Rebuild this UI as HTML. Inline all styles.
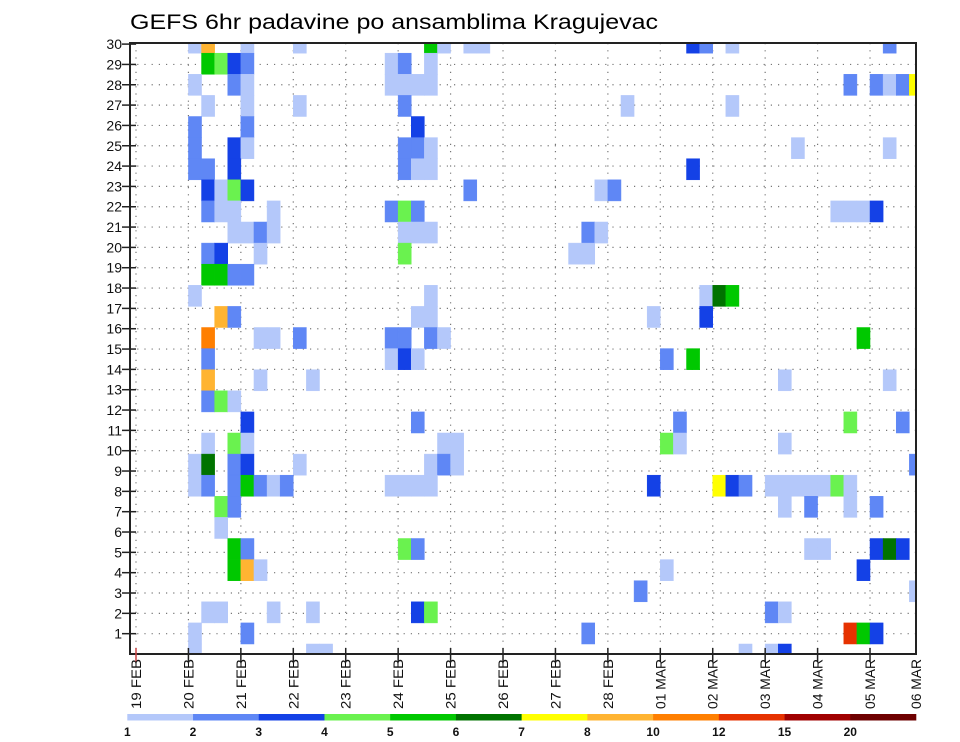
<!DOCTYPE html>
<html><head><meta charset="utf-8"><style>
html,body{margin:0;padding:0;background:#fff;}
svg{display:block;font-family:"Liberation Sans",sans-serif;}
</style></head><body>
<svg id="chart" width="960" height="742" viewBox="0 0 960 742">
<defs><clipPath id="plotclip"><rect x="130" y="43" width="786" height="611"/></clipPath></defs>
<text x="130" y="29" font-size="21" textLength="528" lengthAdjust="spacingAndGlyphs" fill="#000">GEFS 6hr padavine po ansamblima Kragujevac</text>
<g id="grid"></g>
<g id="cells" clip-path="url(#plotclip)"></g>
<rect x="130" y="43" width="786" height="611" fill="none" stroke="#222" stroke-width="2"/>
<g id="yaxis"></g>
<g id="xaxis"></g>
<g id="legend"></g>
</svg>
<script>
// ---- data ----
const dateLabels = ["19 FEB","20 FEB","21 FEB","22 FEB","23 FEB","24 FEB","25 FEB","26 FEB","27 FEB","28 FEB","01 MAR","02 MAR","03 MAR","04 MAR","05 MAR"];
const memberTicks = [1,2,3,4,5,6,7,8,9,10,11,12,13,14,15,16,17,18,19,20,21,22,23,24,25,26,27,28,29,30];
const levels = [1,2,3,4,5,6,7,8,10,12,15,20];
const levelColors = ["#b4c8fa","#5f87f5","#1441e6","#6af24f","#00c800","#007300","#ffff00","#ffb432","#ff7f00","#e63200","#a00000","#6e0000"];
// precipitation cells: [member row, 6-hour step from 19 FEB 00Z, precipitation mm]
const precipCells = [
[29,4,1.5],[29,5,9],[29,8,1.5],[29,12,1.5],[29,22,5.5],[29,23,1.5],[29,25,1.5],[29,26,1.5],[29,42,3.5],[29,43,2.5],[29,45,1.5],[29,57,2.5],
[28,5,5.5],[28,6,4.5],[28,7,3.5],[28,8,2.5],[28,19,1.5],[28,20,2.5],[28,22,1.5],
[27,4,1.5],[27,7,2.5],[27,8,1.5],[27,19,1.5],[27,20,1.5],[27,21,1.5],[27,22,1.5],[27,54,2.5],[27,56,2.5],[27,57,1.5],[27,58,2.5],[27,59,7.5],
[26,5,1.5],[26,8,1.5],[26,12,1.5],[26,20,2.5],[26,37,1.5],[26,45,1.5],
[25,4,2.5],[25,8,2.5],[25,21,3.5],
[24,4,2.5],[24,7,3.5],[24,8,1.5],[24,20,2.5],[24,21,2.5],[24,22,1.5],[24,50,1.5],[24,57,1.5],
[23,4,2.5],[23,5,2.5],[23,7,3.5],[23,20,2.5],[23,21,1.5],[23,22,1.5],[23,42,3.5],
[22,5,3.5],[22,6,1.5],[22,7,4.5],[22,8,3.5],[22,25,2.5],[22,35,1.5],[22,36,2.5],
[21,5,2.5],[21,6,1.5],[21,7,1.5],[21,10,1.5],[21,19,2.5],[21,20,4.5],[21,21,2.5],[21,53,1.5],[21,54,1.5],[21,55,1.5],[21,56,3.5],
[20,7,1.5],[20,8,1.5],[20,9,2.5],[20,10,1.5],[20,20,1.5],[20,21,1.5],[20,22,1.5],[20,34,2.5],[20,35,1.5],
[19,5,2.5],[19,6,3.5],[19,9,1.5],[19,20,4.5],[19,33,1.5],[19,34,1.5],
[18,5,5.5],[18,6,5.5],[18,7,2.5],[18,8,2.5],
[17,4,1.5],[17,22,1.5],[17,43,1.5],[17,44,6.5],[17,45,5.5],
[16,6,9],[16,7,2.5],[16,21,1.5],[16,22,1.5],[16,39,1.5],[16,43,3.5],
[15,5,11],[15,9,1.5],[15,10,1.5],[15,12,2.5],[15,19,2.5],[15,20,2.5],[15,22,2.5],[15,23,1.5],[15,55,5.5],
[14,5,2.5],[14,19,1.5],[14,20,3.5],[14,21,1.5],[14,40,2.5],[14,42,5.5],
[13,5,9],[13,9,1.5],[13,13,1.5],[13,49,1.5],[13,57,1.5],
[12,5,2.5],[12,6,4.5],[12,7,1.5],
[11,8,3.5],[11,21,2.5],[11,41,2.5],[11,54,4.5],[11,58,2.5],
[10,5,1.5],[10,7,4.5],[10,8,1.5],[10,23,1.5],[10,24,1.5],[10,40,4.5],[10,41,1.5],[10,49,1.5],
[9,4,1.5],[9,5,6.5],[9,7,2.5],[9,8,3.5],[9,12,1.5],[9,22,1.5],[9,23,2.5],[9,24,1.5],[9,59,2.5],
[8,4,1.5],[8,5,2.5],[8,7,2.5],[8,8,5.5],[8,9,2.5],[8,10,1.5],[8,11,2.5],[8,19,1.5],[8,20,1.5],[8,21,1.5],[8,22,1.5],[8,39,3.5],[8,44,7.5],[8,45,3.5],[8,46,2.5],[8,48,1.5],[8,49,1.5],[8,50,1.5],[8,51,1.5],[8,52,1.5],[8,53,4.5],[8,54,1.5],
[7,6,4.5],[7,7,2.5],[7,49,1.5],[7,51,2.5],[7,54,1.5],[7,56,2.5],
[6,6,1.5],
[5,7,5.5],[5,8,2.5],[5,20,4.5],[5,21,2.5],[5,51,1.5],[5,52,1.5],[5,56,3.5],[5,57,6.5],[5,58,3.5],
[4,7,5.5],[4,8,9],[4,9,1.5],[4,40,1.5],[4,55,3.5],
[3,38,2.5],[3,59,1.5],
[2,5,1.5],[2,6,1.5],[2,10,1.5],[2,13,1.5],[2,21,3.5],[2,22,4.5],[2,48,2.5],[2,49,1.5],
[1,4,1.5],[1,8,2.5],[1,34,2.5],[1,54,13],[1,55,5.5],[1,56,3.5],
[0,4,1.5],[0,13,1.5],[0,14,1.5],[0,46,1.5],[0,48,1.5],[0,49,3.5]
];
// ---- axes ----
const NS = "http://www.w3.org/2000/svg";
const X0 = 136, DAY = 52.43, STEP = DAY/4;
function xStep(t){ return X0 + t*STEP; }
function xDay(d){ return X0 + d*DAY; }
function yTick(v){ return 654 - v*20.33; }
const CELL_H = 21.1;
function yCellTop(k){ return 644 - k*CELL_H; }
function colorFor(v){ let c = levelColors[0]; for(let i=0;i<levels.length;i++){ if(v>=levels[i]) c = levelColors[i]; } return c; }
function mk(tag, attrs, parent){ const e=document.createElementNS(NS,tag); for(const k in attrs) e.setAttribute(k,attrs[k]); parent.appendChild(e); return e; }

const grid = document.getElementById('grid');
memberTicks.forEach(function(v){
  if(v>=30) return;
  const l = mk('line',{x1:130,x2:916,y1:yTick(v),y2:yTick(v),stroke:'#777','stroke-width':1.2,'stroke-dasharray':'1.2 6'},grid);
  
  
});
dateLabels.forEach(function(d,i){
  const l = mk('line',{x1:xDay(i),x2:xDay(i),y1:43,y2:654,stroke:'#777','stroke-width':1.2,'stroke-dasharray':'1.2 6'},grid);
  
  
});

const cellsG = document.getElementById('cells');
precipCells.forEach(function(c){
  const r = mk('rect',{x:xStep(c[1]),y:yCellTop(c[0]),width:STEP,height:CELL_H,fill:colorFor(c[2]),stroke:colorFor(c[2]),'stroke-width':0.5},cellsG);
  
  
});

const yax = document.getElementById('yaxis');
memberTicks.forEach(function(v){
  const tk = mk('line',{x1:122,x2:136,y1:yTick(v),y2:yTick(v),stroke:'#222','stroke-width':1.5},yax);
  
  
  const t = mk('text',{x:122,y:yTick(v)+5,'font-size':14,'text-anchor':'end',fill:'#111'},yax);
  t.textContent = String(v);
  
  
});

const xax = document.getElementById('xaxis');
dateLabels.forEach(function(d,i){
  const x = xDay(i);
  const tk = mk('line',{x1:x,x2:x,y1:648,y2:662,stroke:i===0?'#c44':'#222','stroke-width':1.5},xax);
  
  
  const t = mk('text',{x:0,y:0,'font-size':14,fill:'#111',textLength:50,lengthAdjust:'spacingAndGlyphs',transform:'translate('+(x+5)+',709) rotate(-90)'},xax);
  t.textContent = d;
  
  
});
const last = mk('text',{x:0,y:0,'font-size':14,fill:'#111',textLength:50,lengthAdjust:'spacingAndGlyphs',transform:'translate(921,709) rotate(-90)'},xax);
last.textContent = '06 MAR';



const leg = document.getElementById('legend');
const LX0 = 127.3, LW = (916-127.3)/levels.length;
levels.forEach(function(lv,i){
  const r = mk('rect',{x:LX0+i*LW,y:714,width:LW+0.3,height:6.5,fill:levelColors[i]},leg);
  
  
  const t = mk('text',{x:LX0+i*LW,y:736,'font-size':12,'font-weight':'bold','text-anchor':'middle',fill:'#111'},leg);
  t.textContent = String(lv);
  
  
});
</script>
</body></html>
